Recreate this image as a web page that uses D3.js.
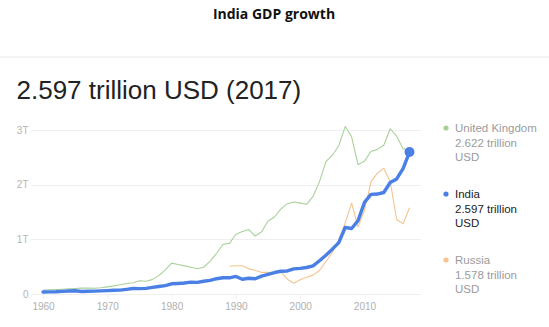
<!DOCTYPE html>
<html>
<head>
<meta charset="utf-8">
<script src="https://cdn.jsdelivr.net/npm/d3@7"></script>
<style>
  html, body { margin: 0; padding: 0; background: #fff; }
  svg { display: block; }
</style>
</head>
<body>
<svg id="chart" width="549" height="327"></svg>
<script>
// ---- Data (trillion USD) ----
const indiaYears = d3.range(1960, 2018);
const indiaValues = [0.037,0.039,0.042,0.048,0.056,0.059,0.046,0.050,0.053,0.058,
  0.062,0.068,0.071,0.085,0.100,0.098,0.103,0.122,0.137,0.153,
  0.187,0.193,0.201,0.218,0.212,0.233,0.249,0.280,0.297,0.296,
  0.321,0.270,0.288,0.279,0.327,0.360,0.393,0.416,0.421,0.459,
  0.468,0.485,0.515,0.608,0.709,0.820,0.940,1.217,1.199,1.342,
  1.676,1.823,1.828,1.857,2.039,2.104,2.295,2.597];
const ukYears = d3.range(1960, 2018);
const ukValues = [0.072,0.077,0.081,0.087,0.094,0.101,0.107,0.111,0.105,0.113,
  0.131,0.148,0.170,0.193,0.206,0.241,0.232,0.263,0.336,0.438,
  0.565,0.540,0.515,0.489,0.461,0.489,0.602,0.745,0.911,0.926,
  1.093,1.142,1.179,1.061,1.140,1.335,1.408,1.554,1.652,1.684,
  1.662,1.641,1.785,2.056,2.422,2.539,2.713,3.063,2.876,2.367,
  2.430,2.608,2.646,2.721,3.023,2.886,2.659,2.622];
const russiaYears = d3.range(1989, 2018);
const russiaValues = [0.507,0.517,0.518,0.460,0.435,0.395,0.395,0.392,0.405,0.271,
  0.196,0.260,0.307,0.345,0.430,0.591,0.764,0.990,1.300,1.661,
  1.223,1.525,2.052,2.210,2.297,2.060,1.363,1.283,1.578];
const yTickValues = [0, 1, 2, 3];
const yTickLabels = ["0", "1T", "2T", "3T"];
const xTickValues = [1960, 1970, 1980, 1990, 2000, 2010];
const legendNames = ["United Kingdom", "India", "Russia"];
const legendValues = ["2.622 trillion", "2.597 trillion", "1.578 trillion"];
const titleText = "India GDP growth";
const headlineText = "2.597 trillion USD (2017)";

// ---- Layout ----
const svg = d3.select("#chart");
const x = d3.scaleLinear().domain([1960, 2017]).range([43, 409.5]);
const y = d3.scaleLinear().domain([0, 3]).range([294, 130]);

svg.append("text")
  .attr("x", 274).attr("y", 18.5)
  .attr("text-anchor", "middle")
  .style("font-family", "'Open Sans', sans-serif")
  .style("font-weight", 700)
  .style("font-size", "14px")
  .attr("fill", "#111")
  .text(titleText);

svg.append("line")
  .attr("x1", 0).attr("x2", 549).attr("y1", 57).attr("y2", 57)
  .attr("stroke", "#e8e8e8").attr("stroke-width", 1);

svg.append("text")
  .attr("x", 16.5).attr("y", 99)
  .style("font-family", "'Liberation Sans', Arial, sans-serif")
  .style("font-size", "26px")
  .attr("fill", "#222")
  .text(headlineText);

// gridlines
svg.append("g").selectAll("line").data(yTickValues).join("line")
  .attr("x1", 31).attr("x2", 421)
  .attr("y1", d => Math.round(y(d)) + 0.5).attr("y2", d => Math.round(y(d)) + 0.5)
  .attr("stroke", "#efefef").attr("stroke-width", 1);

// y tick labels
svg.append("g").selectAll("text").data(yTickValues).join("text")
  .attr("x", 28.5).attr("y", d => y(d))
  .attr("dy", "0.35em")
  .attr("text-anchor", "end")
  .style("font-family", "'Liberation Sans', Arial, sans-serif")
  .style("font-size", "10px")
  .attr("fill", "#b5b5b5")
  .text((d, i) => yTickLabels[i]);

// x axis via d3.axisBottom
const xAxis = d3.axisBottom(x).tickValues(xTickValues).tickFormat(d3.format("d"))
  .tickSize(4).tickPadding(4);
const gx = svg.append("g").attr("transform", "translate(0,295)").call(xAxis);
gx.select(".domain").remove();
gx.selectAll(".tick line").attr("stroke", "#f0f0f0");
gx.selectAll(".tick text")
  .style("font-family", "'Liberation Sans', Arial, sans-serif")
  .style("font-size", "10px")
  .attr("fill", "#b0b0b0");

// lines
const line = d3.line().x(d => x(d[0])).y(d => y(d[1]));
const ukData = ukYears.map((yr, i) => [yr, ukValues[i]]);
const indiaData = indiaYears.map((yr, i) => [yr, indiaValues[i]]);
const russiaData = russiaYears.map((yr, i) => [yr, russiaValues[i]]);

svg.append("path").datum(ukData).attr("d", line)
  .attr("fill", "none").attr("stroke", "#a9d19a").attr("stroke-width", 1.1)
  .attr("stroke-linejoin", "round");
svg.append("path").datum(russiaData).attr("d", line)
  .attr("fill", "none").attr("stroke", "#f6c48f").attr("stroke-width", 1.1)
  .attr("stroke-linejoin", "round");
svg.append("path").datum(indiaData).attr("d", line)
  .attr("fill", "none").attr("stroke", "#4a80e6").attr("stroke-width", 3.4)
  .attr("stroke-linejoin", "round").attr("stroke-linecap", "round");

const last = indiaData[indiaData.length - 1];
svg.append("circle")
  .attr("cx", x(last[0])).attr("cy", y(last[1])).attr("r", 5)
  .attr("fill", "#4a80e6");

// legend
const legendColors = ["#a9d19a", "#4a80e6", "#f6c48f"];
const legendText = ["#9b9b9b", "#222", "#9b9b9b"];
const legendTop = [128, 194, 260];
const lg = svg.append("g");
legendNames.forEach((name, i) => {
  const g = lg.append("g").attr("transform", `translate(0,${legendTop[i]})`);
  g.append("circle").attr("cx", 446).attr("cy", 0).attr("r", 2.6).attr("fill", legendColors[i]);
  const t = g.append("text")
    .style("font-family", "'Liberation Sans', Arial, sans-serif")
    .style("font-size", "11.5px")
    .attr("fill", legendText[i]);
  [name, legendValues[i], "USD"].forEach((s, j) => {
    t.append("tspan").attr("x", 455).attr("y", j * 14.5).attr("dy", "0.35em").text(s);
  });
});
</script>
</body>
</html>
